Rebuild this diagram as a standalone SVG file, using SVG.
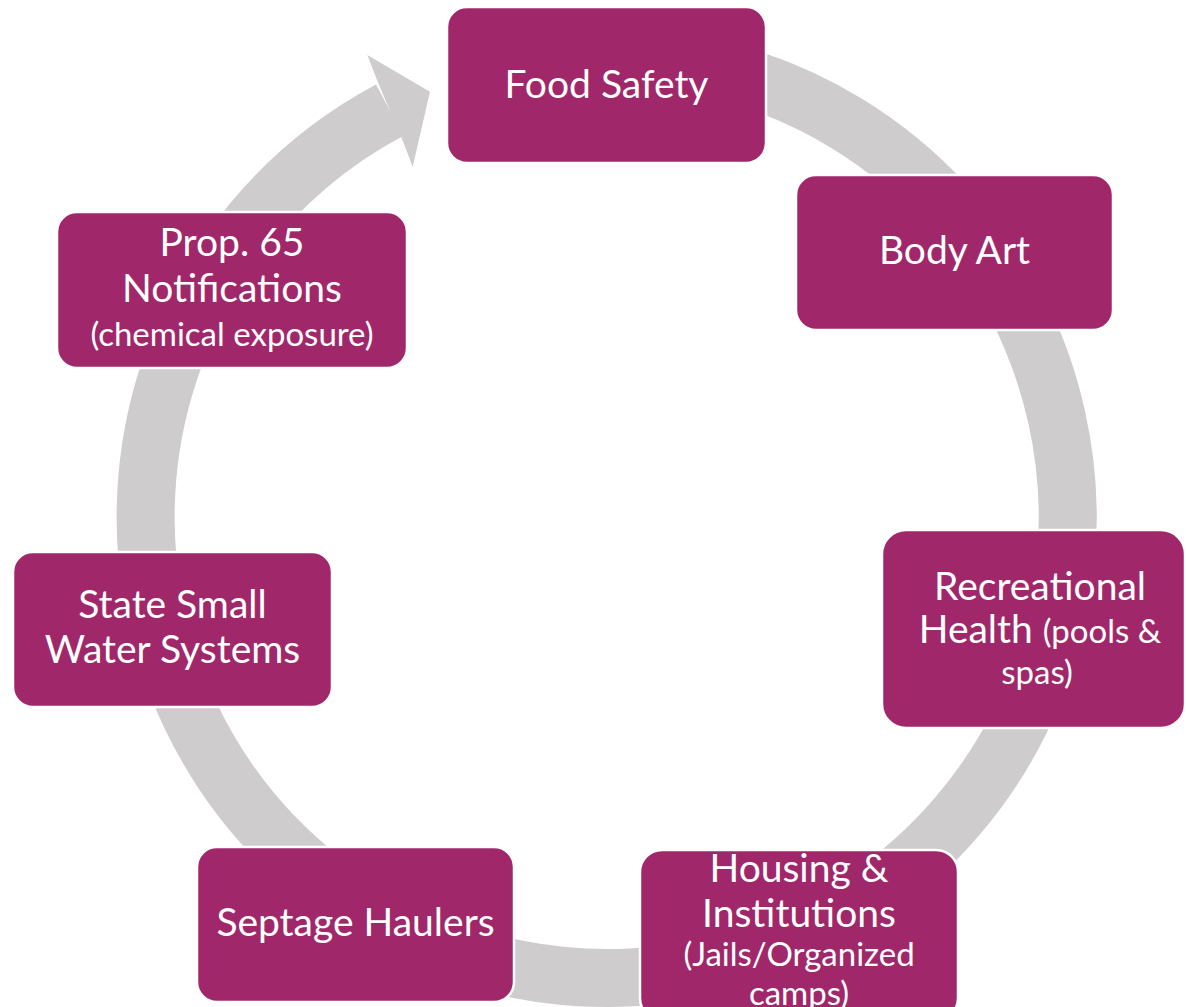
<svg xmlns="http://www.w3.org/2000/svg" width="1186" height="1007" viewBox="0 0 1186 1007">
<style>
.box{fill:#A0286A;stroke:#FFFFFF;stroke-width:2.5}
.t{fill:#FFFFFF;font-family:Lato,"Open Sans",sans-serif;text-anchor:middle}
.L{font-size:39px}
.S{font-size:33px}
.ring{fill:none;stroke:#CFCCCD;stroke-width:58}
</style>
<rect width="1186" height="1007" fill="#FFFFFF"/>
<g id="connectors">
<path class="ring" d="M526.45,63 A461,461 0 1 1 389.7,110.2"/>
<polygon fill="#CFCCCD" points="367.3,55 430,91.7 412.7,166.7 401.7,138.3 378.3,83.3"/>
</g>
<g id="food-safety">
<rect class="box" x="447" y="7" width="319" height="156" rx="20"/>
<text class="t L" x="606.5" y="98">Food Safety</text>
</g>
<g id="body-art">
<rect class="box" x="796" y="175" width="317" height="155" rx="20"/>
<text class="t L" x="954.5" y="264">Body Art</text>
</g>
<g id="recreational-health">
<rect class="box" x="882" y="530" width="303" height="198" rx="24"/>
<text class="t L" x="1040" y="600">Recreational</text>
<text class="t" x="1040" y="643"><tspan class="L">Health </tspan><tspan class="S">(pools &amp;</tspan></text>
<text class="t S" x="1037" y="684">spas)</text>
</g>
<g id="housing-institutions">
<rect class="box" x="640" y="850" width="318" height="170" rx="22"/>
<text class="t L" x="799" y="882">Housing &amp;</text>
<text class="t L" x="799" y="927">Institutions</text>
<text class="t S" x="799" y="966">(Jails/Organized</text>
<text class="t S" x="799" y="1005">camps)</text>
</g>
<g id="septage-haulers">
<rect class="box" x="197" y="847" width="317" height="155" rx="20"/>
<text class="t L" x="355.5" y="936">Septage Haulers</text>
</g>
<g id="state-small-water-systems">
<rect class="box" x="13" y="552" width="319" height="155" rx="20"/>
<text class="t L" x="172.5" y="618">State Small</text>
<text class="t L" x="172.5" y="663">Water Systems</text>
</g>
<g id="prop-65">
<rect class="box" x="57" y="212" width="350" height="156" rx="20"/>
<text class="t L" x="232" y="256">Prop. 65</text>
<text class="t L" x="232" y="302">Notifications</text>
<text class="t S" x="232" y="346">(chemical exposure)</text>
</g>
</svg>
